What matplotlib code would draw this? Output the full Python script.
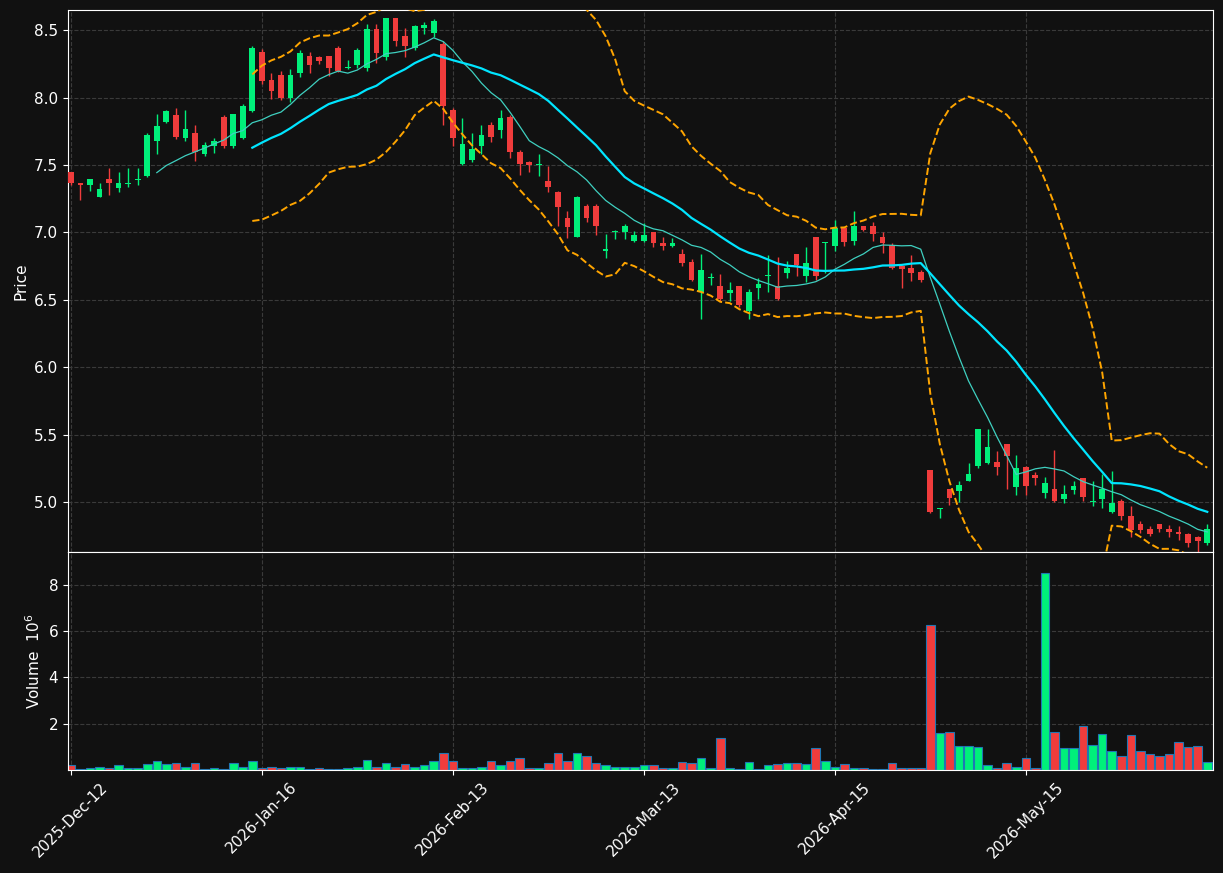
import numpy as np
import pandas as pd
import matplotlib
matplotlib.use("Agg")
import matplotlib.pyplot as plt

# OHLC (120 sessions)
opens = [7.45, 7.37, 7.35, 7.26, 7.40, 7.33, 7.36, 7.39, 7.42, 7.68,
         7.82, 7.87, 7.70, 7.74, 7.58, 7.64, 7.86, 7.64, 7.70, 7.90,
         8.34, 8.13, 8.17, 8.00, 8.18, 8.31, 8.30, 8.31, 8.37, 8.22,
         8.24, 8.22, 8.51, 8.30, 8.59, 8.46, 8.37, 8.52, 8.48, 8.40,
         7.91, 7.51, 7.54, 7.64, 7.80, 7.76, 7.86, 7.60, 7.52, 7.50,
         7.38, 7.30, 7.11, 6.97, 7.20, 7.20, 6.86, 7.00, 7.00, 6.94,
         6.94, 7.00, 6.92, 6.90, 6.84, 6.78, 6.56, 6.66, 6.60, 6.55,
         6.60, 6.42, 6.59, 6.68, 6.60, 6.70, 6.84, 6.68, 6.97, 6.92,
         6.90, 7.03, 6.94, 7.05, 7.05, 6.97, 6.91, 6.75, 6.74, 6.71,
         5.24, 4.95, 5.10, 5.08, 5.16, 5.27, 5.29, 5.30, 5.43, 5.11,
         5.26, 5.20, 5.07, 5.10, 5.02, 5.09, 5.18, 5.00, 5.02, 4.93,
         5.01, 4.90, 4.84, 4.80, 4.84, 4.80, 4.78, 4.76, 4.74, 4.70]
closes = [7.37, 7.35, 7.40, 7.32, 7.37, 7.37, 7.36, 7.39, 7.72, 7.79,
          7.90, 7.71, 7.77, 7.60, 7.65, 7.68, 7.64, 7.88, 7.94, 8.37,
          8.12, 8.05, 8.00, 8.17, 8.33, 8.24, 8.27, 8.22, 8.20, 8.22,
          8.35, 8.51, 8.33, 8.59, 8.42, 8.38, 8.53, 8.54, 8.57, 7.94,
          7.70, 7.66, 7.62, 7.72, 7.71, 7.85, 7.60, 7.51, 7.50, 7.50,
          7.34, 7.19, 7.04, 7.26, 7.11, 7.05, 6.88, 7.00, 7.05, 6.98,
          6.98, 6.92, 6.90, 6.92, 6.77, 6.65, 6.72, 6.66, 6.51, 6.57,
          6.46, 6.56, 6.62, 6.68, 6.51, 6.74, 6.76, 6.77, 6.68, 6.92,
          7.03, 6.93, 7.05, 7.02, 6.99, 6.92, 6.74, 6.73, 6.70, 6.65,
          4.93, 4.95, 5.03, 5.13, 5.21, 5.54, 5.41, 5.26, 5.34, 5.25,
          5.12, 5.18, 5.14, 5.01, 5.06, 5.12, 5.04, 5.01, 5.10, 4.99,
          4.90, 4.79, 4.79, 4.76, 4.80, 4.78, 4.76, 4.70, 4.71, 4.80]
highs = [7.45, 7.37, 7.40, 7.37, 7.48, 7.45, 7.48, 7.48, 7.74, 7.88,
         7.91, 7.92, 7.91, 7.80, 7.67, 7.70, 7.87, 7.88, 7.95, 8.38,
         8.36, 8.18, 8.20, 8.21, 8.35, 8.34, 8.31, 8.31, 8.38, 8.28,
         8.37, 8.55, 8.55, 8.59, 8.59, 8.52, 8.54, 8.56, 8.58, 8.42,
         7.92, 7.85, 7.74, 7.80, 7.82, 7.91, 7.87, 7.61, 7.53, 7.58,
         7.49, 7.31, 7.16, 7.27, 7.21, 7.21, 6.99, 7.02, 7.06, 7.01,
         7.07, 7.00, 6.97, 6.96, 6.88, 6.80, 6.84, 6.70, 6.69, 6.63,
         6.60, 6.58, 6.66, 6.83, 6.82, 6.79, 6.84, 6.89, 6.97, 6.93,
         7.09, 7.03, 7.16, 7.05, 7.08, 7.00, 6.92, 6.75, 6.83, 6.72,
         5.24, 4.96, 5.10, 5.16, 5.29, 5.54, 5.54, 5.38, 5.43, 5.35,
         5.27, 5.22, 5.19, 5.39, 5.13, 5.16, 5.18, 5.16, 5.21, 5.23,
         5.02, 4.97, 4.86, 4.82, 4.84, 4.83, 4.82, 4.77, 4.75, 4.84]
lows = [7.35, 7.24, 7.31, 7.26, 7.28, 7.30, 7.34, 7.35, 7.41, 7.58,
        7.81, 7.69, 7.68, 7.53, 7.57, 7.59, 7.63, 7.63, 7.69, 7.89,
        8.10, 7.99, 7.98, 7.97, 8.15, 8.18, 8.25, 8.16, 8.19, 8.21,
        8.22, 8.20, 8.26, 8.28, 8.38, 8.30, 8.35, 8.47, 8.45, 7.80,
        7.64, 7.50, 7.52, 7.58, 7.67, 7.70, 7.55, 7.43, 7.45, 7.42,
        7.30, 7.05, 6.96, 6.97, 7.08, 6.98, 6.81, 6.95, 6.95, 6.93,
        6.93, 6.89, 6.87, 6.89, 6.75, 6.64, 6.36, 6.61, 6.49, 6.49,
        6.45, 6.36, 6.51, 6.56, 6.50, 6.66, 6.68, 6.63, 6.65, 6.70,
        6.86, 6.90, 6.91, 7.01, 6.94, 6.85, 6.73, 6.59, 6.64, 6.63,
        4.92, 4.88, 4.98, 5.00, 5.16, 5.25, 5.28, 5.20, 5.10, 5.05,
        5.05, 5.13, 5.03, 5.00, 4.99, 5.06, 5.01, 4.97, 4.96, 4.92,
        4.87, 4.74, 4.77, 4.75, 4.78, 4.74, 4.72, 4.67, 4.63, 4.68]
volumes = [0.2, 0.05, 0.1, 0.15, 0.1, 0.2, 0.1, 0.1, 0.25, 0.4,
           0.25, 0.3, 0.15, 0.3, 0.05, 0.1, 0.05, 0.3, 0.15, 0.4,
           0.1, 0.15, 0.1, 0.15, 0.15, 0.05, 0.1, 0.05, 0.05, 0.1,
           0.15, 0.45, 0.15, 0.3, 0.15, 0.25, 0.15, 0.2, 0.4, 0.75,
           0.4, 0.1, 0.1, 0.15, 0.4, 0.2, 0.4, 0.5, 0.1, 0.1,
           0.3, 0.75, 0.4, 0.75, 0.6, 0.3, 0.2, 0.15, 0.15, 0.15,
           0.2, 0.2, 0.1, 0.1, 0.35, 0.3, 0.5, 0.1, 1.4, 0.1,
           0.05, 0.35, 0.05, 0.2, 0.25, 0.3, 0.3, 0.25, 0.95, 0.4,
           0.15, 0.25, 0.1, 0.1, 0.05, 0.05, 0.3, 0.1, 0.1, 0.1,
           6.25, 1.6, 1.65, 1.05, 1.05, 1.0, 0.2, 0.1, 0.3, 0.15,
           0.5, 0.1, 8.5, 1.65, 0.95, 0.95, 1.9, 1.1, 1.55, 0.8,
           0.6, 1.5, 0.8, 0.7, 0.6, 0.7, 1.2, 1.0, 1.05, 0.35]
tick_idx = [0, 20, 40, 60, 80, 100]
tick_labels = ['2025-Dec-12', '2026-Jan-16', '2026-Feb-13', '2026-Mar-13', '2026-Apr-15', '2026-May-15']

BG = '#111111'
UP = '#00f07a'
DOWN = '#f03c3c'

close_s = pd.Series(closes)
ma10 = close_s.rolling(10).mean()
ma20 = close_s.rolling(20).mean()
sd20 = close_s.rolling(20).std()
upper = ma20 + 2 * sd20
lower = ma20 - 2 * sd20

fig = plt.figure(figsize=(12.23, 8.73), dpi=100, facecolor=BG)
ax = fig.add_axes([0.0556, 0.3677, 0.9362, 0.6208], facecolor=BG)
axv = fig.add_axes([0.0556, 0.118, 0.9362, 0.2497], facecolor=BG, sharex=ax)

x = np.arange(len(closes))
colors = [UP if c >= o else DOWN for o, c in zip(opens, closes)]
ax.vlines(x, lows, highs, colors=colors, linewidth=1, zorder=2)
body_lo = np.minimum(opens, closes)
body_h = np.maximum(np.abs(np.array(closes) - np.array(opens)), 0.008)
ax.bar(x, body_h, bottom=body_lo, width=0.6, color=colors, zorder=3)

ax.plot(x, ma10, color='#3fd0c0', linewidth=0.9, zorder=4)
ax.plot(x, ma20, color='#00e5ff', linewidth=1.6, zorder=4)
ax.plot(x, upper, color='#ffa500', linestyle='--', linewidth=1.4, zorder=4)
ax.plot(x, lower, color='#ffa500', linestyle='--', linewidth=1.4, zorder=4)

axv.bar(x, volumes, width=0.9, color=colors, edgecolor='#1f77b4', linewidth=0.8)

for a in (ax, axv):
    a.grid(True, linestyle='--', color='#3a3a3a', linewidth=0.8)
    a.set_axisbelow(True)
    for s in a.spines.values():
        s.set_color('white')
    a.tick_params(colors='white', labelsize=11)

ax.set_xlim(-0.3, 119.6)
ax.set_ylim(4.63, 8.65)
axv.set_ylim(0, 9.41)
ax.set_ylabel('Price', color='white', fontsize=11)
axv.set_ylabel('Volume  $10^6$', color='white', fontsize=11)
axv.set_yticks([2, 4, 6, 8])
axv.set_xticks(tick_idx)
axv.set_xticklabels(tick_labels, rotation=45, ha='center')
plt.setp(ax.get_xticklabels(), visible=False)
ax.tick_params(axis='x', length=0)

fig.savefig('out.png', facecolor=BG)
